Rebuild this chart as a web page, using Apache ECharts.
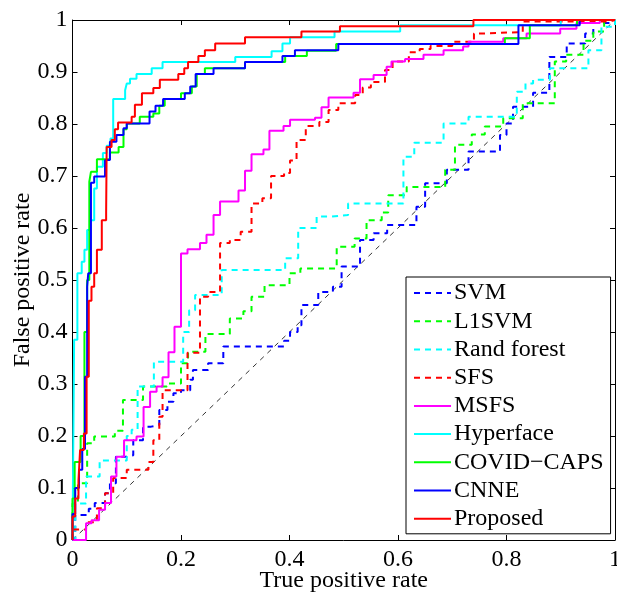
<!DOCTYPE html>
<html>
<head>
<meta charset="utf-8">
<script src="https://cdn.jsdelivr.net/npm/echarts@6/dist/echarts.min.js"></script>
<style>
html,body{margin:0;padding:0;background:#fff;}
#chart{width:617px;height:592px;}
</style>
</head>
<body>
<div id="chart"></div>
<script>
// ---- Data ----
const seriesNames = ['SVM','L1SVM','Rand forest','SFS','MSFS','Hyperface','COVID\u2212CAPS','CNNE','Proposed'];
const xTickLabels = ['0','0.2','0.4','0.6','0.8','1'];
const yTickLabels = ['0','0.1','0.2','0.3','0.4','0.5','0.6','0.7','0.8','0.9','1'];

const chanceLine = [[0,0],[1,1]];

const svm = [[0,0],[0.005,0],[0.005,0.048],[0.03,0.048],[0.03,0.06],[0.041,0.06],[0.041,0.071],[0.06,0.071],[0.06,0.09],[0.069,0.09],[0.069,0.109],[0.08,0.109],[0.08,0.16],[0.1,0.16],[0.1,0.163],[0.112,0.163],[0.112,0.192],[0.13,0.192],[0.13,0.218],[0.145,0.218],[0.145,0.221],[0.16,0.221],[0.16,0.25],[0.175,0.25],[0.175,0.266],[0.186,0.266],[0.186,0.282],[0.2,0.282],[0.2,0.288],[0.217,0.288],[0.217,0.308],[0.222,0.308],[0.222,0.327],[0.25,0.327],[0.25,0.34],[0.278,0.34],[0.278,0.372],[0.39,0.372],[0.39,0.383],[0.401,0.383],[0.401,0.4],[0.415,0.4],[0.415,0.413],[0.422,0.413],[0.422,0.452],[0.453,0.452],[0.453,0.477],[0.48,0.477],[0.48,0.487],[0.496,0.487],[0.496,0.526],[0.53,0.526],[0.53,0.577],[0.555,0.577],[0.555,0.59],[0.58,0.59],[0.58,0.606],[0.634,0.606],[0.634,0.641],[0.65,0.641],[0.65,0.686],[0.69,0.686],[0.69,0.712],[0.73,0.712],[0.73,0.747],[0.788,0.747],[0.788,0.779],[0.8,0.779],[0.8,0.801],[0.812,0.801],[0.812,0.833],[0.849,0.833],[0.849,0.86],[0.879,0.86],[0.879,0.929],[0.911,0.929],[0.911,0.955],[0.945,0.955],[0.945,0.974],[0.96,0.974],[0.96,0.994],[1,0.994],[1,1]];

const l1svm = [[0,0],[0,0.07],[0.01,0.07],[0.01,0.109],[0.027,0.109],[0.027,0.186],[0.04,0.186],[0.04,0.199],[0.078,0.199],[0.078,0.21],[0.093,0.21],[0.093,0.269],[0.13,0.269],[0.13,0.295],[0.174,0.295],[0.174,0.301],[0.2,0.301],[0.2,0.34],[0.213,0.34],[0.213,0.362],[0.245,0.362],[0.245,0.396],[0.29,0.396],[0.29,0.426],[0.315,0.426],[0.315,0.44],[0.33,0.44],[0.33,0.468],[0.354,0.468],[0.354,0.49],[0.4,0.49],[0.4,0.513],[0.42,0.513],[0.42,0.522],[0.487,0.522],[0.487,0.564],[0.52,0.564],[0.52,0.58],[0.542,0.58],[0.542,0.615],[0.57,0.615],[0.57,0.63],[0.582,0.63],[0.582,0.663],[0.616,0.663],[0.616,0.679],[0.687,0.679],[0.687,0.712],[0.705,0.712],[0.705,0.76],[0.736,0.76],[0.736,0.78],[0.76,0.78],[0.76,0.795],[0.794,0.795],[0.794,0.811],[0.83,0.811],[0.83,0.84],[0.889,0.84],[0.889,0.92],[0.91,0.92],[0.91,0.933],[0.942,0.933],[0.942,0.96],[0.96,0.96],[0.96,0.978],[0.98,0.978],[0.98,1],[1,1]];

const randForest = [[0,0],[0.005,0],[0.005,0.07],[0.025,0.07],[0.025,0.122],[0.05,0.122],[0.05,0.153],[0.1,0.153],[0.1,0.2],[0.109,0.2],[0.109,0.212],[0.12,0.212],[0.12,0.295],[0.15,0.295],[0.15,0.343],[0.204,0.343],[0.204,0.4],[0.215,0.4],[0.215,0.442],[0.226,0.442],[0.226,0.471],[0.275,0.471],[0.275,0.519],[0.392,0.519],[0.392,0.542],[0.416,0.542],[0.416,0.6],[0.45,0.6],[0.45,0.622],[0.478,0.622],[0.478,0.625],[0.508,0.625],[0.508,0.647],[0.61,0.647],[0.61,0.737],[0.63,0.737],[0.63,0.764],[0.684,0.764],[0.684,0.801],[0.73,0.801],[0.73,0.814],[0.819,0.814],[0.819,0.862],[0.835,0.862],[0.835,0.878],[0.849,0.878],[0.849,0.885],[0.88,0.885],[0.88,0.907],[0.951,0.907],[0.951,0.942],[0.975,0.942],[0.975,0.987],[1,0.987],[1,1]];

const sfs = [[0,0],[0,0.02],[0.025,0.02],[0.025,0.034],[0.045,0.034],[0.045,0.061],[0.06,0.061],[0.06,0.09],[0.075,0.09],[0.075,0.119],[0.1,0.119],[0.1,0.135],[0.14,0.135],[0.14,0.15],[0.149,0.15],[0.149,0.192],[0.16,0.192],[0.16,0.237],[0.166,0.237],[0.166,0.288],[0.212,0.288],[0.212,0.36],[0.235,0.36],[0.235,0.468],[0.25,0.468],[0.25,0.477],[0.272,0.477],[0.272,0.571],[0.29,0.571],[0.29,0.577],[0.31,0.577],[0.31,0.593],[0.33,0.593],[0.33,0.647],[0.35,0.647],[0.35,0.657],[0.366,0.657],[0.366,0.7],[0.39,0.7],[0.39,0.706],[0.401,0.706],[0.401,0.73],[0.413,0.73],[0.413,0.769],[0.43,0.769],[0.43,0.796],[0.455,0.796],[0.455,0.804],[0.472,0.804],[0.472,0.827],[0.49,0.827],[0.49,0.84],[0.521,0.84],[0.521,0.856],[0.535,0.856],[0.535,0.87],[0.55,0.87],[0.55,0.881],[0.576,0.881],[0.576,0.904],[0.59,0.904],[0.59,0.92],[0.62,0.92],[0.62,0.938],[0.64,0.938],[0.64,0.944],[0.66,0.944],[0.66,0.95],[0.7,0.95],[0.7,0.958],[0.74,0.958],[0.74,0.974],[0.76,0.974],[0.76,0.977],[0.83,0.977],[0.83,0.997],[0.99,0.997],[0.99,1],[1,1]];

const msfs = [[0,0],[0.025,0],[0.025,0.032],[0.035,0.032],[0.035,0.038],[0.049,0.038],[0.049,0.058],[0.06,0.058],[0.06,0.071],[0.071,0.071],[0.071,0.122],[0.081,0.122],[0.081,0.16],[0.095,0.16],[0.095,0.192],[0.118,0.192],[0.118,0.199],[0.131,0.199],[0.131,0.256],[0.143,0.256],[0.143,0.285],[0.155,0.285],[0.155,0.295],[0.166,0.295],[0.166,0.313],[0.177,0.313],[0.177,0.361],[0.188,0.361],[0.188,0.41],[0.2,0.41],[0.2,0.551],[0.212,0.551],[0.212,0.559],[0.235,0.559],[0.235,0.571],[0.247,0.571],[0.247,0.587],[0.26,0.587],[0.26,0.625],[0.272,0.625],[0.272,0.651],[0.306,0.651],[0.306,0.672],[0.318,0.672],[0.318,0.71],[0.33,0.71],[0.33,0.742],[0.352,0.742],[0.352,0.751],[0.363,0.751],[0.363,0.787],[0.389,0.787],[0.389,0.796],[0.401,0.796],[0.401,0.808],[0.447,0.808],[0.447,0.812],[0.459,0.812],[0.459,0.832],[0.472,0.832],[0.472,0.851],[0.518,0.851],[0.518,0.86],[0.53,0.86],[0.53,0.886],[0.555,0.886],[0.555,0.894],[0.579,0.894],[0.579,0.91],[0.588,0.91],[0.588,0.92],[0.613,0.92],[0.613,0.925],[0.647,0.925],[0.647,0.933],[0.684,0.933],[0.684,0.942],[0.72,0.942],[0.72,0.949],[0.73,0.949],[0.73,0.958],[0.794,0.958],[0.794,0.965],[0.837,0.965],[0.837,0.974],[0.899,0.974],[0.899,0.983],[0.929,0.983],[0.929,0.994],[0.972,0.994],[0.972,1],[1,1]];

const hyperface = [[0,0],[0.003,0],[0.003,0.385],[0.009,0.385],[0.009,0.513],[0.017,0.513],[0.017,0.535],[0.022,0.535],[0.022,0.558],[0.027,0.558],[0.027,0.596],[0.032,0.596],[0.032,0.615],[0.04,0.615],[0.04,0.676],[0.045,0.676],[0.045,0.718],[0.056,0.718],[0.056,0.744],[0.063,0.744],[0.063,0.758],[0.07,0.758],[0.07,0.772],[0.075,0.772],[0.075,0.848],[0.097,0.848],[0.097,0.865],[0.1,0.865],[0.1,0.878],[0.106,0.878],[0.106,0.887],[0.118,0.887],[0.118,0.896],[0.146,0.896],[0.146,0.907],[0.166,0.907],[0.166,0.919],[0.3,0.919],[0.3,0.929],[0.367,0.929],[0.367,0.94],[0.387,0.94],[0.387,0.955],[0.401,0.955],[0.401,0.967],[0.483,0.967],[0.483,0.978],[0.604,0.978],[0.604,0.99],[0.9,0.99],[0.9,1],[1,1]];

const covidCaps = [[0,0],[0,0.08],[0.004,0.08],[0.004,0.15],[0.015,0.15],[0.015,0.2],[0.022,0.2],[0.022,0.4],[0.027,0.4],[0.027,0.5],[0.031,0.5],[0.031,0.689],[0.034,0.689],[0.034,0.708],[0.045,0.708],[0.045,0.732],[0.069,0.732],[0.069,0.745],[0.085,0.745],[0.085,0.756],[0.094,0.756],[0.094,0.79],[0.1,0.79],[0.1,0.801],[0.124,0.801],[0.124,0.814],[0.149,0.814],[0.149,0.82],[0.16,0.82],[0.16,0.835],[0.17,0.835],[0.17,0.848],[0.2,0.848],[0.2,0.859],[0.22,0.859],[0.22,0.872],[0.229,0.872],[0.229,0.896],[0.244,0.896],[0.244,0.907],[0.318,0.907],[0.318,0.919],[0.392,0.919],[0.392,0.931],[0.432,0.931],[0.432,0.941],[0.486,0.941],[0.486,0.954],[0.797,0.954],[0.797,0.965],[0.843,0.965],[0.843,0.99],[0.93,0.99],[0.93,1],[1,1]];

const cnne = [[0,0],[0,0.05],[0.005,0.05],[0.005,0.1],[0.012,0.1],[0.012,0.135],[0.018,0.135],[0.018,0.175],[0.023,0.175],[0.023,0.314],[0.027,0.314],[0.027,0.487],[0.029,0.487],[0.029,0.513],[0.034,0.513],[0.034,0.687],[0.04,0.687],[0.04,0.699],[0.06,0.699],[0.06,0.731],[0.069,0.731],[0.069,0.766],[0.081,0.766],[0.081,0.779],[0.094,0.779],[0.094,0.792],[0.1,0.792],[0.1,0.801],[0.142,0.801],[0.142,0.824],[0.153,0.824],[0.153,0.835],[0.167,0.835],[0.167,0.848],[0.207,0.848],[0.207,0.859],[0.217,0.859],[0.217,0.872],[0.227,0.872],[0.227,0.896],[0.26,0.896],[0.26,0.907],[0.318,0.907],[0.318,0.919],[0.387,0.919],[0.387,0.931],[0.41,0.931],[0.41,0.942],[0.49,0.942],[0.49,0.954],[0.822,0.954],[0.822,0.99],[0.935,0.99],[0.935,1],[1,1]];

const proposed = [[0,0],[0,0.045],[0.005,0.045],[0.005,0.08],[0.011,0.08],[0.011,0.115],[0.014,0.115],[0.014,0.173],[0.021,0.173],[0.021,0.205],[0.026,0.205],[0.026,0.314],[0.03,0.314],[0.03,0.46],[0.035,0.46],[0.035,0.487],[0.04,0.487],[0.04,0.513],[0.045,0.513],[0.045,0.558],[0.054,0.558],[0.054,0.615],[0.062,0.615],[0.062,0.631],[0.063,0.631],[0.063,0.756],[0.072,0.756],[0.072,0.769],[0.078,0.769],[0.078,0.79],[0.084,0.79],[0.084,0.803],[0.109,0.803],[0.109,0.814],[0.115,0.814],[0.115,0.837],[0.128,0.837],[0.128,0.859],[0.149,0.859],[0.149,0.869],[0.161,0.869],[0.161,0.885],[0.195,0.885],[0.195,0.896],[0.206,0.896],[0.206,0.907],[0.213,0.907],[0.213,0.919],[0.232,0.919],[0.232,0.931],[0.244,0.931],[0.244,0.942],[0.263,0.942],[0.263,0.955],[0.318,0.955],[0.318,0.967],[0.422,0.967],[0.422,0.978],[0.493,0.978],[0.493,0.988],[0.739,0.988],[0.739,1],[1,1]];

const seriesData = [svm, l1svm, randForest, sfs, msfs, hyperface, covidCaps, cnne, proposed];
const seriesColors = ['#0000ff','#00ff00','#00ffff','#ff0000','#ff00ff','#00ffff','#00ff00','#0000ff','#ff0000'];
const seriesDashed = [true,true,true,true,false,false,false,false,false];

// ---- Chart ----
const FONT = '"Liberation Serif","DejaVu Serif",serif';
const chart = echarts.init(document.getElementById('chart'), null, {renderer:'canvas'});

function fmtX(v){ const i = Math.round(v/0.2); return xTickLabels[i] !== undefined ? xTickLabels[i] : ''; }
function fmtY(v){ const i = Math.round(v/0.1); return yTickLabels[i] !== undefined ? yTickLabels[i] : ''; }

const axisCommon = {
  type:'value', min:0, max:1,
  splitLine:{show:false},
  axisLine:{show:true, onZero:false, lineStyle:{color:'#000', width:1}},
  axisTick:{show:true, inside:true, length:5, lineStyle:{color:'#000', width:1}}
};

const series = [{
  name:'chance', type:'line', data:chanceLine, symbol:'none', silent:true,
  lineStyle:{color:'#000', width:0.8, type:[5,5]}, z:1, animation:false
}];
seriesNames.forEach((n,i)=>{
  series.push({
    name:n, type:'line', data:seriesData[i], symbol:'none', showSymbol:false,
    lineStyle:{color:seriesColors[i], width:2, type: seriesDashed[i] ? [6,5] : 'solid'},
    itemStyle:{color:seriesColors[i]},
    z:2+i, animation:false
  });
});

chart.setOption({
  backgroundColor:'#fff',
  animation:false,
  grid:{left:72.5, right:2, top:20, bottom:52, containLabel:false, outerBoundsMode:'none'},
  xAxis:[
    Object.assign({}, axisCommon, {position:'bottom', interval:0.2,
      name:'True positive rate', nameLocation:'middle', nameGap:29, nameMoveOverlap:false,
      nameTextStyle:{fontFamily:FONT, fontSize:24, color:'#000'},
      axisLabel:{show:true, margin:8, fontFamily:FONT, fontSize:24, color:'#000', formatter:fmtX}}),
    Object.assign({}, axisCommon, {position:'top', interval:0.2, axisLabel:{show:false}})
  ],
  yAxis:[
    Object.assign({}, axisCommon, {position:'left', interval:0.1,
      name:'False positive rate', nameLocation:'middle', nameGap:38, nameRotate:90, nameMoveOverlap:false,
      nameTextStyle:{fontFamily:FONT, fontSize:24, color:'#000'},
      axisLabel:{show:true, margin:5, fontFamily:FONT, fontSize:24, color:'#000', formatter:fmtY}}),
    Object.assign({}, axisCommon, {position:'right', interval:0.1, axisLabel:{show:false}})
  ],
  legend:{
    data:seriesNames,
    orient:'vertical',
    left:406, top:277,
    padding:[2,7,1,7],
    itemWidth:37, itemHeight:10, itemGap:0,
    borderColor:'#000', borderWidth:1, backgroundColor:'#fff',
    selectedMode:false,
    itemStyle:{opacity:0},
    textStyle:{fontFamily:FONT, fontSize:24, color:'#000', lineHeight:28.2, padding:[0,0,0,-2]}
  },
  series:series
});
</script>
</body>
</html>
